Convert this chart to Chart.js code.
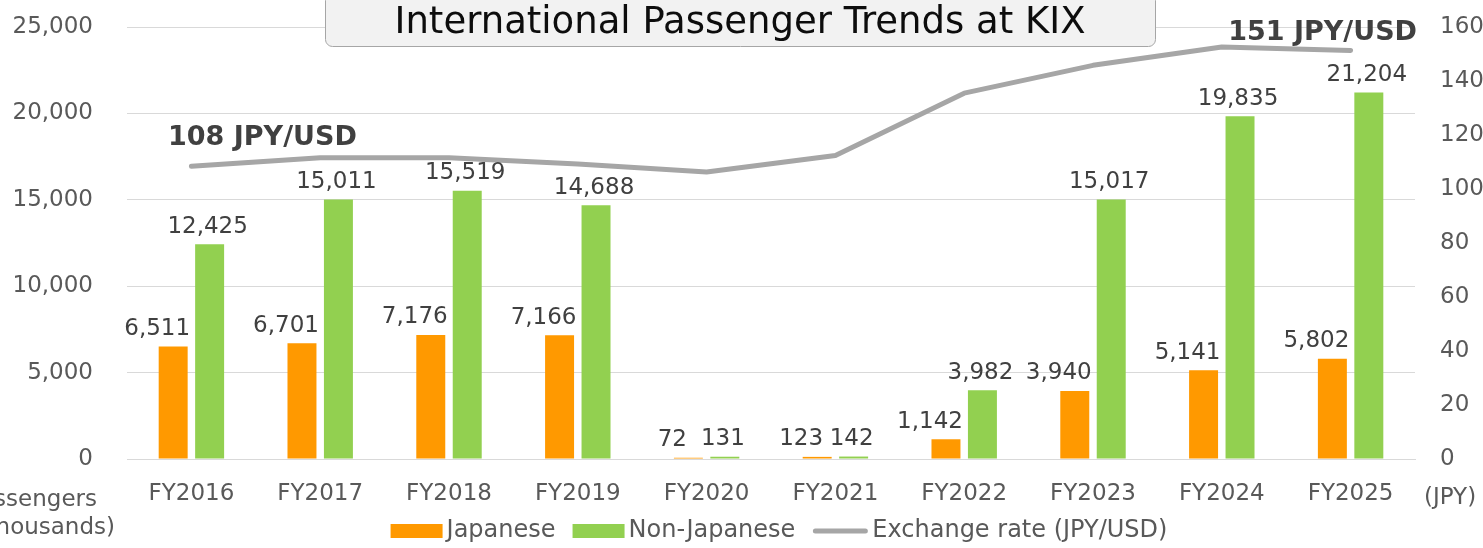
<!DOCTYPE html>
<html>
<head>
<meta charset="utf-8">
<script src="https://cdn.jsdelivr.net/npm/chart.js@4.4.1/dist/chart.umd.min.js"></script>
<style>
  html, body { margin: 0; padding: 0; background: #fff; }
  #wrap { width: 1483px; height: 548px; position: relative; }
</style>
</head>
<body>
<div id="wrap"><canvas id="kix"></canvas></div>
<script>
// data
const years = ["FY2016", "FY2017", "FY2018", "FY2019", "FY2020", "FY2021", "FY2022", "FY2023", "FY2024", "FY2025"];
const japanese = [6511, 6701, 7176, 7166, 72, 123, 1142, 3940, 5141, 5802];
const nonJapanese = [12425, 15011, 15519, 14688, 131, 142, 3982, 15017, 19835, 21204];
const rate = [108.4, 111.6, 111.6, 109.3, 106.3, 112.4, 135.5, 145.8, 152.6, 151.3];

const FONT = "'DejaVu Sans', Verdana, sans-serif";
const fmt = n => n.toLocaleString("en-US");

// title box, number labels, side captions, legend
const extras = {
  id: "extras",
  afterDatasetsDraw(chart) {
    const ctx = chart.ctx;
    const ds = chart.data.datasets;
    ctx.save();
    ctx.font = "23px " + FONT;
    ctx.fillStyle = "#404040";
    ctx.textAlign = "center";
    ctx.textBaseline = "bottom";
    [0, 1].forEach(di => {
      const meta = chart.getDatasetMeta(di);
      const shift = di === 0 ? -16 : -2;
      meta.data.forEach((bar, i) => {
        ctx.fillText(fmt(ds[di].data[i]), bar.x + shift, bar.y - 6);
      });
    });

    // exchange rate callouts
    const lm = chart.getDatasetMeta(2);
    ctx.font = "bold 27px " + FONT;
    ctx.textBaseline = "middle";
    const first = lm.data[0], last = lm.data[lm.data.length - 1];
    ctx.fillText(Math.round(rate[0]) + " JPY/USD", first.x + 71, first.y - 28);
    ctx.fillText(Math.round(rate[rate.length - 1]) + " JPY/USD", last.x - 28, last.y - 18);

    // axis captions
    ctx.font = "23px " + FONT;
    ctx.fillStyle = "#595959";
    ctx.textAlign = "right";
    ctx.fillText("Passengers", 97, 500);
    ctx.fillText("(thousands)", 115, 528);
    ctx.textAlign = "left";
    ctx.fillText("(JPY)", 1424, 498);

    // legend
    ctx.font = "24px " + FONT;
    const items = ds.map(d => ({ text: d.label, line: d.type === "line", color: d.type === "line" ? d.borderColor : d.backgroundColor }));
    let total = 0;
    items.forEach((it, i) => { it.w = ctx.measureText(it.text).width; total += (it.line ? 56 : 52) + 4 + it.w + (i ? 17 : 0); });
    let x = 779 - total / 2;
    const ly = 531;
    items.forEach(it => {
      if (it.line) {
        ctx.beginPath();
        ctx.strokeStyle = it.color;
        ctx.lineWidth = 5;
        ctx.lineCap = "round";
        ctx.moveTo(x + 3, ly);
        ctx.lineTo(x + 53, ly);
        ctx.stroke();
        x += 56;
      } else {
        ctx.fillStyle = it.color;
        ctx.fillRect(x, ly - 7, 52, 14);
        x += 52;
      }
      x += 4;
      ctx.fillStyle = "#595959";
      ctx.fillText(it.text, x, ly);
      x += it.w + 17;
    });

    // title
    ctx.beginPath();
    ctx.roundRect(325.5, -6.5, 830, 53, 7);
    ctx.fillStyle = "#f2f2f2";
    ctx.fill();
    ctx.strokeStyle = "#a6a6a6";
    ctx.lineWidth = 1;
    ctx.stroke();
    ctx.font = "37px " + FONT;
    ctx.fillStyle = "#0d0d0d";
    ctx.textAlign = "center";
    ctx.fillText("International Passenger Trends at KIX", 740, 23);
    ctx.restore();
  }
};

function fixY(width) {
  return s => { s.width = width; s.paddingTop = 0; s.paddingBottom = 0; };
}

new Chart(document.getElementById("kix"), {
  type: "bar",
  data: {
    labels: years,
    datasets: [
      { label: "Japanese", data: japanese, backgroundColor: "#ff9900", borderWidth: 0,
        yAxisID: "y", order: 2, categoryPercentage: 0.566, barPercentage: 0.795 },
      { label: "Non-Japanese", data: nonJapanese, backgroundColor: "#92d050", borderWidth: 0,
        yAxisID: "y", order: 2, categoryPercentage: 0.566, barPercentage: 0.795 },
      { type: "line", label: "Exchange rate (JPY/USD)", data: rate, yAxisID: "y1", order: 1,
        borderColor: "#a6a6a6", backgroundColor: "#a6a6a6", borderWidth: 5,
        borderCapStyle: "round", borderJoinStyle: "round", pointRadius: 0, tension: 0 }
    ]
  },
  options: {
    responsive: true,
    maintainAspectRatio: false,
    animation: false,
    layout: { padding: { top: 27, left: 0, right: 0, bottom: 40 } },
    plugins: {
      title: { display: false },
      tooltip: { enabled: false },
      legend: { display: false }
    },
    scales: {
      x: {
        grid: { display: false },
        border: { color: "#d9d9d9" },
        ticks: { color: "#595959", font: { family: FONT, size: 23 }, padding: 13, maxRotation: 0 },
        afterFit: s => { s.height = 49; }
      },
      y: {
        position: "left",
        min: 0, max: 25000,
        grid: { color: "#d9d9d9", drawTicks: false },
        border: { display: false },
        ticks: { stepSize: 5000, color: "#595959", font: { family: FONT, size: 23 }, padding: 34,
                 callback: v => fmt(v) },
        afterFit: fixY(127)
      },
      y1: {
        position: "right",
        min: 0, max: 160,
        grid: { display: false, drawTicks: false },
        border: { display: false },
        ticks: { stepSize: 20, color: "#595959", font: { family: FONT, size: 23 }, padding: 25 },
        afterFit: fixY(68)
      }
    }
  },
  plugins: [extras]
});
</script>
</body>
</html>
